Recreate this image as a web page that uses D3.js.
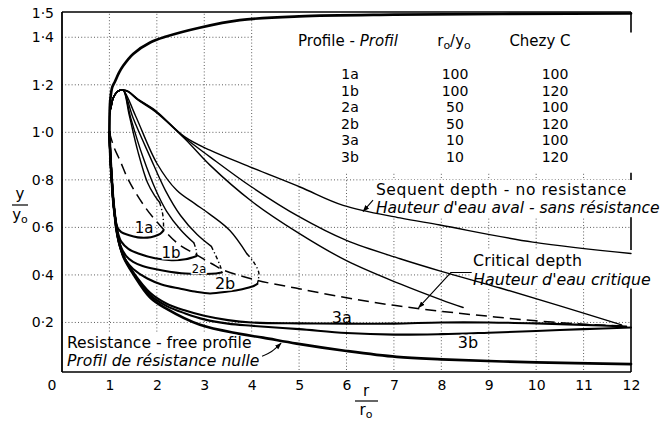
<!DOCTYPE html>
<html><head><meta charset="utf-8">
<script src="https://cdn.jsdelivr.net/npm/d3@7"></script>
<style>
body{margin:0;background:#fff;}
svg{display:block;font-family:"DejaVu Sans",sans-serif;}
</style></head><body>
<svg id="c" width="669" height="425"></svg>
<script>
// ---------- data ----------
const xTickValues = [1,2,3,4,5,6,7,8,9,10,11,12];
const yTickValues = [0.2,0.4,0.6,0.8,1.0,1.2,1.4,1.5];
const gridXFull = [1,2,3,4];
const gridXShort = [5,6,7,8,9,10,11];
const gridYFull = [0.2,0.4,0.6,0.8];
const gridYShort = [1.0,1.2,1.4];

const profNames = ["1a","1b","2a","2b","3a","3b"];
const ratioVals = [100,100,50,50,10,10];
const chezyVals = [100,120,100,120,100,120];

// resistance-free profile, both branches
const rfUpper = [[1,1.0],[1.005,1.08],[1.02,1.14],[1.06,1.19],[1.12,1.215],[1.2,1.25],[1.29,1.28],[1.5,1.33],[1.86,1.378],[2.2,1.403],[2.9,1.44],[3.75,1.472],[5,1.488],[7,1.495],[12,1.5]];
const rfLower = [[1,1.0],[1.02,0.9],[1.05,0.8],[1.08,0.715],[1.12,0.64],[1.15,0.59],[1.2,0.54],[1.3,0.475],[1.5,0.405],[1.86,0.305],[2.2,0.258],[2.91,0.19],[3.75,0.152],[4.24,0.136],[4.95,0.111],[6,0.08],[7.06,0.055],[8,0.045],[10,0.032],[12,0.025]];
// critical depth
const critical = [[1,1.0],[1.1,0.935],[1.22,0.883],[1.4,0.8],[1.75,0.686],[2.1,0.601],[2.45,0.531],[2.8,0.489],[3.16,0.447],[3.4,0.421],[4.1,0.378],[5,0.342],[6,0.304],[7,0.272],[8,0.247],[9,0.226],[10,0.207],[11,0.193],[11.9,0.185]];
// sequent depths
const seqNoRes = [[1.03,1.1],[1.08,1.145],[1.15,1.168],[1.22,1.177],[1.29,1.178],[1.4,1.172],[1.6,1.14],[1.96,1.094],[2.59,0.981],[3.12,0.925],[3.96,0.855],[5.02,0.77],[5.93,0.693],[7.13,0.64],[7.97,0.61],[9.93,0.538],[12,0.49]];
const seq3a = [[1.03,1.1],[1.08,1.145],[1.15,1.168],[1.22,1.177],[1.29,1.178],[1.4,1.171],[1.6,1.138],[1.96,1.091],[2.59,0.977],[3.12,0.897],[4.0,0.77],[5.0,0.645],[6.0,0.545],[7.13,0.468],[8.0,0.415],[9.24,0.345],[10.5,0.27],[11.8,0.19]];
const seq3b = [[1.03,1.1],[1.08,1.145],[1.15,1.168],[1.22,1.177],[1.29,1.178],[1.4,1.17],[1.6,1.136],[1.96,1.088],[2.59,0.973],[3.12,0.862],[4.0,0.71],[5.0,0.575],[6.0,0.46],[7.13,0.362],[8.0,0.295],[8.46,0.263]];
const seq1a = [[1.03,1.1],[1.08,1.145],[1.15,1.168],[1.22,1.177],[1.29,1.178],[1.42,1.07],[1.6,0.92],[1.8,0.79],[1.95,0.735],[2.06,0.705]];
const seq1b = [[1.03,1.1],[1.08,1.145],[1.15,1.168],[1.22,1.177],[1.29,1.178],[1.45,1.06],[1.7,0.9],[1.98,0.756],[2.2,0.67],[2.5,0.59],[2.78,0.535]];
const seq2a = [[1.03,1.1],[1.08,1.145],[1.15,1.168],[1.22,1.177],[1.29,1.178],[1.5,1.06],[1.85,0.9],[2.18,0.756],[2.5,0.65],[2.85,0.57],[3.15,0.52]];
const seq2b = [[1.03,1.1],[1.08,1.145],[1.15,1.168],[1.22,1.177],[1.29,1.178],[1.55,1.07],[2.0,0.87],[2.42,0.756],[2.8,0.7],[3.12,0.655],[3.54,0.587],[3.9,0.489]];
// jump locations (dash-dot)
const jump1a = [[2.06,0.705],[2.12,0.66],[2.14,0.62],[2.14,0.587]];
const jump1b = [[2.78,0.535],[2.83,0.505],[2.84,0.48]];
const jump2a = [[3.15,0.52],[3.28,0.465],[3.35,0.43],[3.37,0.41]];
const jump2b = [[3.9,0.489],[4.04,0.455],[4.15,0.41],[4.14,0.38],[4.12,0.362]];
// profiles with resistance
const prof1a = [[1,1.0],[1.02,0.9],[1.05,0.8],[1.08,0.715],[1.12,0.645],[1.17,0.6],[1.25,0.58],[1.4,0.568],[1.6,0.558],[1.8,0.557],[1.95,0.563],[2.07,0.573],[2.14,0.587]];
const prof1b = [[1,1.0],[1.02,0.9],[1.05,0.8],[1.08,0.715],[1.12,0.64],[1.17,0.585],[1.25,0.54],[1.4,0.51],[1.61,0.49],[1.96,0.47],[2.31,0.462],[2.6,0.466],[2.84,0.48]];
const prof2a = [[1,1.0],[1.02,0.9],[1.05,0.8],[1.08,0.715],[1.12,0.64],[1.16,0.59],[1.22,0.53],[1.35,0.48],[1.5,0.455],[1.7,0.438],[1.96,0.425],[2.52,0.407],[3.02,0.404],[3.25,0.406],[3.37,0.41]];
const prof2b = [[1,1.0],[1.02,0.9],[1.05,0.8],[1.08,0.715],[1.12,0.64],[1.15,0.59],[1.22,0.52],[1.35,0.46],[1.5,0.425],[1.8,0.385],[2.1,0.36],[2.5,0.342],[2.8,0.33],[3.12,0.322],[3.5,0.33],[3.8,0.34],[4.03,0.352],[4.12,0.362]];
const prof3a = [[1,1.0],[1.02,0.9],[1.05,0.8],[1.08,0.715],[1.12,0.64],[1.15,0.59],[1.2,0.54],[1.3,0.478],[1.5,0.412],[1.86,0.325],[2.2,0.28],[2.6,0.25],[3,0.228],[3.5,0.21],[4,0.2],[5,0.196],[6,0.195],[7,0.195],[8,0.2],[9,0.2],[10,0.196],[11,0.19],[11.9,0.183]];
const prof3b = [[1,1.0],[1.02,0.9],[1.05,0.8],[1.08,0.715],[1.12,0.64],[1.15,0.59],[1.2,0.54],[1.3,0.476],[1.5,0.408],[1.86,0.315],[2.2,0.27],[2.6,0.238],[3,0.213],[3.5,0.195],[4,0.186],[5,0.172],[6,0.156],[7,0.149],[8,0.151],[9,0.157],[10,0.164],[11,0.172],[12,0.179]];

// annotation anchors (data units)
const snrLeader = [[6.56,0.715],[6.35,0.667]];
const critLeader = [[8.64,0.41],[8.2,0.41],[7.52,0.262]];
const rfLeader = [[4.22,0.058],[4.42,0.078],[4.62,0.113]];

// ---------- drawing ----------
const svg = d3.select("#c");
const x = d3.scaleLinear().domain([0,12]).range([62,631]);
const y = d3.scaleLinear().domain([0,1.5]).range([370,13.5]);
const line = d3.line().x(d=>x(d[0])).y(d=>y(d[1])).curve(d3.curveCatmullRom.alpha(0.5));

svg.append("defs").append("marker").attr("id","arr")
  .attr("viewBox","0 0 10 10").attr("refX",9).attr("refY",5)
  .attr("markerWidth",7).attr("markerHeight",7).attr("markerUnits","userSpaceOnUse")
  .attr("orient","auto")
  .append("path").attr("d","M0,1.5 L10,5 L0,8.5 Z").attr("fill","#000");

// grid
const grid = svg.append("g").attr("stroke","#333").attr("stroke-width",0.8).attr("stroke-dasharray","1,2.2");
gridXFull.forEach(v=>grid.append("line").attr("x1",x(v)).attr("x2",x(v)).attr("y1",y(0)).attr("y2",y(1.5)));
gridXShort.forEach(v=>grid.append("line").attr("x1",x(v)).attr("x2",x(v)).attr("y1",y(0)).attr("y2",y(0.83)));
gridYFull.forEach(v=>grid.append("line").attr("x1",x(0)).attr("x2",x(12)).attr("y1",y(v)).attr("y2",y(v)));
gridYShort.forEach(v=>grid.append("line").attr("x1",x(0)).attr("x2",x(4)).attr("y1",y(v)).attr("y2",y(v)));

// frame
const frame = svg.append("g").attr("stroke","#000").attr("fill","none");
frame.append("line").attr("x1",x(0)).attr("x2",x(0)).attr("y1",y(1.5)-1.5).attr("y2",y(0)+2).attr("stroke-width",1.8);
frame.append("line").attr("x1",x(0)).attr("x2",x(12)).attr("y1",y(0)+2).attr("y2",y(0)+2).attr("stroke-width",1.6);
frame.append("line").attr("x1",x(0)).attr("x2",x(12)).attr("y1",y(1.5)-1.5).attr("y2",y(1.5)-1.5).attr("stroke-width",1.6);
frame.append("line").attr("x1",x(12)).attr("x2",x(12)).attr("y1",y(1.5)-1.5).attr("y2",y(0)+2).attr("stroke-width",1.6);

// white boxes layer (table, labels)
const boxLayer = svg.append("g").attr("fill","#fff");
boxLayer.append("rect").attr("x",x(4)+1.5).attr("y",y(1.42)).attr("width",x(12.3)-x(4)-1.5).attr("height",y(0.83)-y(1.42));

// curves
const curves = svg.append("g").attr("fill","none").attr("stroke","#000").attr("stroke-linecap","round").attr("stroke-linejoin","round");
[seqNoRes,seq3a,seq3b,seq1a,seq1b,seq2a,seq2b].forEach(d=>curves.append("path").attr("d",line(d)).attr("stroke-width",1.4));
curves.append("path").attr("d",line(critical)).attr("stroke-width",1.5).attr("stroke-dasharray","11,6").attr("stroke-linecap","butt");
[jump1a,jump1b,jump2a,jump2b].forEach(d=>curves.append("path").attr("d",line(d)).attr("stroke-width",1.4).attr("stroke-dasharray","4,2.5,1.2,2.5").attr("stroke-linecap","butt"));
[prof1a,prof1b,prof2a,prof2b,prof3a,prof3b].forEach(d=>curves.append("path").attr("d",line(d)).attr("stroke-width",2.1));
[rfUpper,rfLower].forEach(d=>curves.append("path").attr("d",line(d)).attr("stroke-width",2.7));

// leaders
const lead = svg.append("g").attr("fill","none").attr("stroke","#000").attr("stroke-width",1.1);
lead.append("path").attr("d",d3.line().x(d=>x(d[0])).y(d=>y(d[1]))(snrLeader)).attr("marker-end","url(#arr)");
lead.append("path").attr("d",d3.line().x(d=>x(d[0])).y(d=>y(d[1]))(critLeader)).attr("marker-end","url(#arr)");
lead.append("path").attr("d",d3.line().x(d=>x(d[0])).y(d=>y(d[1])).curve(d3.curveCatmullRom)(rfLeader)).attr("marker-end","url(#arr)");

// axes
const yAxis = svg.append("g").attr("transform",`translate(${x(0)},0)`)
  .call(d3.axisLeft(y).tickValues(yTickValues).tickSize(0).tickPadding(8)
    .tickFormat(d=>d3.format(".1f")(d).replace(".","·")));
const xAxis = svg.append("g").attr("transform",`translate(0,${y(0)})`)
  .call(d3.axisBottom(x).tickValues(xTickValues).tickSize(0).tickPadding(10).tickFormat(d3.format("d")));
[yAxis,xAxis].forEach(a=>{a.select(".domain").remove();a.selectAll("text").attr("font-size",14).attr("font-family","DejaVu Sans").attr("fill","#000");});
svg.append("text").attr("x",x(0)-10).attr("y",y(0)+20).attr("text-anchor","middle").attr("font-size",14).text("0");

// axis titles
const ttl = svg.append("g").attr("font-size",15).attr("text-anchor","middle");
ttl.append("text").attr("x",20).attr("y",199).text("y");
ttl.append("line").attr("x1",12).attr("x2",28).attr("y1",205).attr("y2",205).attr("stroke","#000").attr("stroke-width",1.2);
const y0t = ttl.append("text").attr("x",20).attr("y",220);
y0t.append("tspan").text("y"); y0t.append("tspan").attr("font-size",11).attr("dy",3).text("o");
ttl.append("text").attr("x",366).attr("y",396).text("r");
ttl.append("line").attr("x1",355).attr("x2",378).attr("y1",401).attr("y2",401).attr("stroke","#000").attr("stroke-width",1.2);
const r0t = ttl.append("text").attr("x",366).attr("y",415);
r0t.append("tspan").text("r"); r0t.append("tspan").attr("font-size",11).attr("dy",3).text("o");

// table
const tbl = svg.append("g").attr("font-size",14).attr("text-anchor","middle");
const hdr1 = tbl.append("text").attr("x",348).attr("y",46).attr("font-size",15);
hdr1.append("tspan").text("Profile - ");
hdr1.append("tspan").attr("font-style","italic").text("Profil");
const hdr2 = tbl.append("text").attr("x",454).attr("y",46).attr("font-size",15);
hdr2.append("tspan").text("r"); hdr2.append("tspan").attr("font-size",11).attr("dy",3).text("o");
hdr2.append("tspan").attr("dy",-3).text("/y"); hdr2.append("tspan").attr("font-size",11).attr("dy",3).text("o");
tbl.append("text").attr("x",540).attr("y",46).attr("font-size",15).text("Chezy  C");
profNames.forEach((p,i)=>{
  const by = 79 + i*16.5;
  tbl.append("text").attr("x",350).attr("y",by).text(p);
  tbl.append("text").attr("x",455).attr("y",by).text(ratioVals[i]);
  tbl.append("text").attr("x",555).attr("y",by).text(chezyVals[i]);
});

// boxed annotations
function boxed(lines, x0, y0, size, gap){
  const g = svg.append("g").attr("font-size",size);
  lines.forEach((l,i)=>{
    g.append("text").attr("x",x0).attr("y",y0+i*gap)
      .attr("font-style",l.it?"italic":"normal")
      .attr("letter-spacing",l.ls||0).text(l.t);
  });
  const b = g.node().getBBox();
  boxLayer.append("rect").attr("x",b.x-2).attr("y",b.y-1).attr("width",b.width+4).attr("height",b.height+1);
}
boxed([{t:"Sequent depth - no resistance",ls:0.6},{t:"Hauteur d'eau aval - sans résistance",it:1}], x(6.62), 195, 15.5, 18.2);
boxed([{t:"Critical depth",ls:0.2},{t:"Hauteur d'eau critique",it:1}], x(8.67), 266, 15.8, 18.6);
boxed([{t:"Resistance - free profile"},{t:"Profil de résistance nulle",it:1}], x(0.105), 348, 15.6, 18.3);

// curve labels
const lbl = svg.append("g").attr("text-anchor","middle").attr("fill","#000");
const labelPos = [[1.73,0.6,15,3],[2.3,0.496,15,3],[2.89,0.425,11.5,3],[3.44,0.366,16,3],[5.9,0.224,16,0],[8.56,0.118,16,3]];
profNames.forEach((p,i)=>{
  lbl.append("text").attr("x",x(labelPos[i][0])).attr("y",y(labelPos[i][1])).attr("dy","0.36em")
    .attr("font-size",labelPos[i][2])
    .attr("stroke","#fff").attr("stroke-width",labelPos[i][3]).attr("paint-order","stroke")
    .text(p);
});
</script>
</body></html>
